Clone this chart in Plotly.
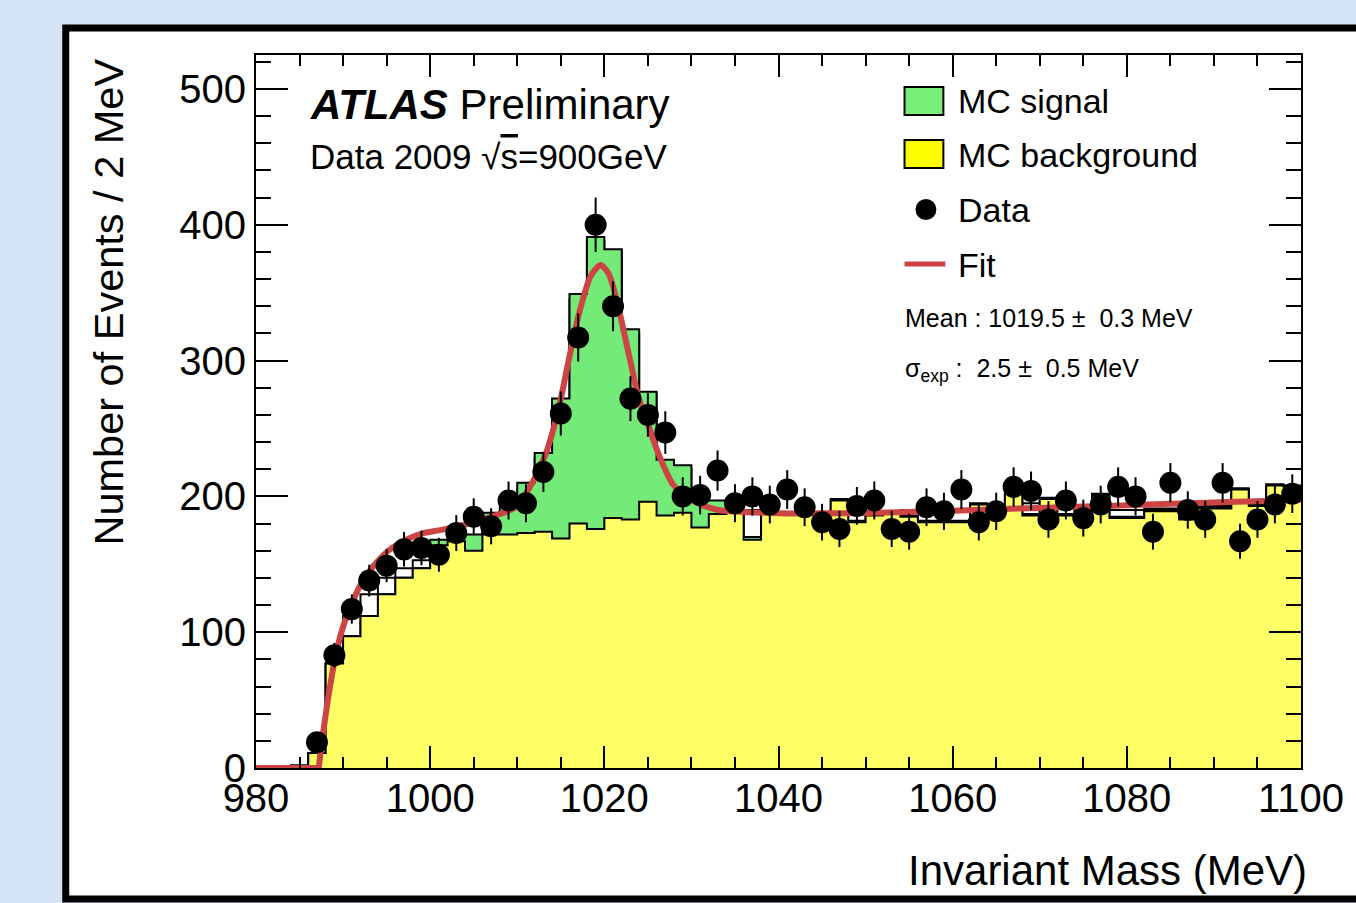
import plotly.graph_objects as go

# ---------------- data ----------------
bin_edges = list(range(980, 1101, 2))          # 2 MeV bins, 980 .. 1100
bin_centers = [e + 1 for e in bin_edges[:-1]]

data_counts = [None, None, None, 19, 83, 117, 138, 149, 161, 162,
               157, 173, 185, 178, 197, 195, 218, 261, 317, 400,
               340, 272, 260, 247, 200, 201, 219, 195, 200, 194,
               205, 192, 181, 176, 193, 197, 176, 174, 192, 189,
               205, 181, 189, 207, 204, 183, 197, 184, 194, 207,
               200, 174, 210, 190, 183, 210, 167, 183, 194, 202]
data_err = [0, 0, 0, 4.4, 9.1, 10.8, 11.7, 12.2, 12.7, 12.7,
            12.5, 13.2, 13.6, 13.3, 14.0, 14.0, 14.8, 16.2, 17.8, 20.0,
            18.4, 16.5, 16.1, 15.7, 14.1, 14.2, 14.8, 14.0, 14.1, 13.9,
            14.3, 13.9, 13.5, 13.3, 13.9, 14.0, 13.3, 13.2, 13.9, 13.7,
            14.3, 13.5, 13.7, 14.4, 14.3, 13.5, 14.0, 13.6, 13.9, 14.4,
            14.1, 13.2, 14.5, 13.8, 13.5, 14.5, 12.9, 13.5, 13.9, 14.2]

mc_background = [0, 0, 0, 11, 77, 97, 112, 128, 140, 147,
                 164, 167, 160, 172, 172, 173, 174, 169, 180, 176,
                 184, 183, 196, 186, 188, 177, 187, 190, 168, 187,
                 187, 187, 186, 197, 181, 186, 187, 185, 181, 181,
                 181, 194, 188, 202, 186, 198, 186, 189, 201, 184,
                 184, 189, 189, 183, 191, 191, 205, 193, 208, 207]
mc_signal = [0, 0, 0, 0, 0, 0, 0, 0, 0, 0,
             4, 4, 12, 16, 22, 37, 58, 103, 169, 215,
             198, 140, 81, 41, 35, 20, 10, 2, 2, 1,
             1, 1, 1, 1, 1, 1, 1, 1, 1, 1,
             1, 1, 1, 1, 1, 1, 1, 1, 1, 1,
             1, 1, 1, 1, 1, 1, 1, 1, 1, 1]
mc_total_outline = [0, 0, 2, 11, 77, 112, 128, 140, 147, 153,
                    160, 168, 165, 185, 190, 205, 228, 268, 345, 388,
                    380, 320, 275, 225, 220, 195, 195, 190, 190, 188,
                    188, 188, 188, 190, 195, 189, 189, 190, 190, 190,
                    190, 190, 190, 191, 195, 191, 196, 191, 192, 190,
                    190, 191, 191, 191, 193, 193, 194, 194, 196, 197]

# fit curve
fit_x = [987.2, 987.7, 988.5, 989.2, 990.0, 991.0, 992.1, 993.4, 995.3, 997.2,
         999.1, 1001.0, 1003.0, 1005.3, 1007.5, 1009.8, 1011.7, 1013.3, 1014.8,
         1015.9, 1017.1, 1018.4, 1019.55, 1020.5, 1021.6, 1022.8, 1023.9, 1025.1,
         1026.2, 1027.8, 1029.3, 1031.2, 1033.1, 1035, 1040, 1045, 1050, 1055,
         1060, 1065, 1070, 1075, 1080, 1085, 1090, 1095, 1100]
fit_y = [0, 25.5, 60, 84.5, 104, 121, 136, 148, 160.5, 168,
         172.8, 175, 177.7, 181.4, 186, 192, 209.6, 231.7, 266,
         300, 334.8, 361.8, 370.4, 364, 339.7, 305, 273.4, 251.3,
         231.7, 209.6, 199.8, 193.7, 190, 188.8, 187.6, 187.5, 187.8, 188.5,
         189.5, 190.5, 191.5, 192.5, 193.5, 194.5, 195.5, 196.5, 197.5]
fit_zero_x = [980, 987.2]
fit_zero_y = [0, 0]

# ---------------- layout constants ----------------
W, H = 1356, 903
L, R, T, B = 256, 1305, 55, 768
FONT = "Liberation Sans, Arial, Helvetica, sans-serif"
GREEN = "#74ea79"
YELLOW = "#ffff66"
RED = "#cc4444"


def px(xp):
    return (xp - L) / (R - L)


def py(yp):
    return (B - yp) / (B - T)


def step(vals):
    return bin_edges, list(vals) + [vals[-1]]


fig = go.Figure()

# outline histogram (MC total, white filled)
sx, sy = step(mc_total_outline)
fig.add_trace(go.Scatter(x=sx, y=sy, mode="lines", line_shape="hv",
                         line=dict(color="black", width=2), fill="tozeroy",
                         fillcolor="white", hoverinfo="skip"))

# stacked signal + background (green)
stack = [b + s for b, s in zip(mc_background, mc_signal)]
sx, sy = step(stack)
fig.add_trace(go.Scatter(x=sx, y=sy, mode="lines", line_shape="hv",
                         line=dict(color="black", width=2), fill="tozeroy",
                         fillcolor=GREEN, hoverinfo="skip"))

# background (yellow)
sx, sy = step(mc_background)
fig.add_trace(go.Scatter(x=sx, y=sy, mode="lines", line_shape="hv",
                         line=dict(color="black", width=2), fill="tozeroy",
                         fillcolor=YELLOW, hoverinfo="skip"))

# fit
fig.add_trace(go.Scatter(x=fit_zero_x, y=fit_zero_y, mode="lines",
                         line=dict(color=RED, width=6)))
fig.add_trace(go.Scatter(x=fit_x, y=fit_y, mode="lines",
                         line=dict(color=RED, width=6, shape="spline", smoothing=0.7)))

# data
fig.add_trace(go.Scatter(x=bin_centers, y=data_counts, mode="markers",
                         marker=dict(color="black", size=22),
                         error_y=dict(type="data", array=data_err, width=0,
                                      thickness=2, color="black")))

shapes = []
# white panel with black border
shapes.append(dict(type="rect", xref="paper", yref="paper", layer="below",
                   x0=px(65), x1=px(1420), y0=py(899), y1=py(28),
                   fillcolor="white", line=dict(color="black", width=7)))

annotations = []

# legend boxes
shapes.append(dict(type="rect", xref="paper", yref="paper",
                   x0=px(907), x1=px(946), y0=py(115), y1=py(87),
                   fillcolor="#77ee77", line=dict(color="black", width=2)))
shapes.append(dict(type="rect", xref="paper", yref="paper",
                   x0=px(907), x1=px(946), y0=py(168), y1=py(140),
                   fillcolor="#ffff00", line=dict(color="black", width=2)))
shapes.append(dict(type="circle", xref="paper", yref="paper",
                   x0=px(918), x1=px(939), y0=py(220), y1=py(199),
                   fillcolor="black", line=dict(color="black", width=0)))
shapes.append(dict(type="line", xref="paper", yref="paper",
                   x0=px(907), x1=px(948), y0=py(264), y1=py(264),
                   line=dict(color=RED, width=5)))


def ann(text, xp, yp, size, xanchor="left", yanchor="middle", angle=0):
    annotations.append(dict(text=text, x=px(xp), y=py(yp), xref="paper", yref="paper",
                            xanchor=xanchor, yanchor=yanchor, showarrow=False,
                            textangle=angle,
                            font=dict(family=FONT, size=size, color="black")))


ann("MC signal", 959, 101, 34)
ann("MC background", 959, 155, 34)
ann("Data", 959, 210, 34)
ann("Fit", 959, 265, 34)
ann("Mean : 1019.5 ±  0.3 MeV", 905, 318, 25)
ann("σ<sub>exp</sub> :  2.5 ±  0.5 MeV", 905, 370, 25)

ann("<b><i>ATLAS</i></b> Preliminary", 308, 104, 42)
ann("Data 2009 √<span style='text-decoration:overline'>s</span>=900GeV", 308, 156, 35)

ann("Invariant Mass (MeV)", 1313, 870, 42, xanchor="right")
ann("Number of Events / 2 MeV", 107, 302, 41.5, xanchor="center", angle=-90)

fig.update_layout(
    width=W, height=H,
    margin=dict(l=L, r=W - R, t=T, b=H - B, pad=0),
    paper_bgcolor="#d6e4f7",
    plot_bgcolor="white",
    showlegend=False,
    shapes=shapes,
    annotations=annotations,
    font=dict(family=FONT, size=40, color="black"),
    xaxis=dict(range=[980, 1100], tick0=980, dtick=20, ticks="inside",
               ticklen=22, tickwidth=2, tickcolor="black",
               minor=dict(dtick=5, ticks="inside", ticklen=11, tickwidth=2,
                          tickcolor="black"),
               showline=True, linewidth=2, linecolor="black", mirror="ticks",
               showgrid=False, zeroline=False, ticklabelstandoff=-6,
               tickfont=dict(family=FONT, size=40, color="black")),
    yaxis=dict(range=[0, 525], tick0=0, dtick=100, ticks="inside",
               ticklen=32, tickwidth=2, tickcolor="black",
               minor=dict(dtick=20, ticks="inside", ticklen=15, tickwidth=2,
                          tickcolor="black"),
               showline=True, linewidth=2, linecolor="black", mirror="ticks",
               showgrid=False, zeroline=False,
               tickfont=dict(family=FONT, size=40, color="black")),
)

fig.write_html("out.html")
